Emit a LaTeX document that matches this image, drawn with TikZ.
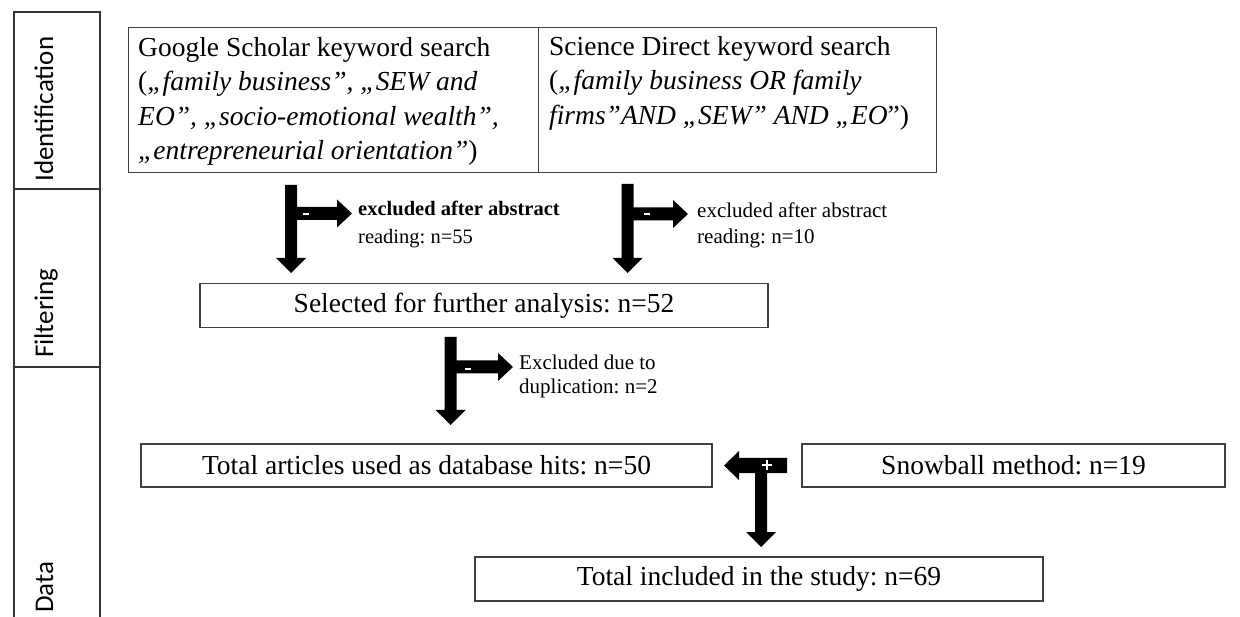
\documentclass[tikz,border=0pt]{standalone}
\usepackage{fontspec}
\setmainfont{Liberation Serif}
\newfontfamily\sidefont{Carlito}
\frenchspacing
\newcommand{\tblk}[5]{%
\fill[blk] ({#1-6},#2) -- ({#1+6},#2) -- ({#1+6},{#4-6.5}) -- ({#5-15},{#4-6.5}) -- ({#5-15},{#4-14}) -- (#5,#4) -- ({#5-15},{#4+14}) -- ({#5-15},{#4+6.5}) -- ({#1+6},{#4+6.5}) -- ({#1+6},{#3-15}) -- ({#1+15},{#3-15}) -- (#1,#3) -- ({#1-15},{#3-15}) -- ({#1-6},{#3-15}) -- cycle;}
\begin{document}
\begin{tikzpicture}[x=1pt,y=-1pt,
 box/.style={draw=black!75, line width=1.4pt, inner sep=0pt},
 boxtext/.style={font=\fontsize{27.5}{34.5}\selectfont, inner sep=0pt, align=left, anchor=north west},
 bigtext/.style={font=\fontsize{27.5}{34.5}\selectfont},
 side/.style={font=\sidefont\fontsize{27}{30}\selectfont, rotate=90, anchor=base west, inner sep=0pt},
 lbl/.style={inner sep=0pt, align=left, anchor=north west},
 col/.style={draw=black!80, line width=1.5pt},
 blk/.style={fill=black},
 signline/.style={white, line width=1.6pt}]
\useasboundingbox (0,0) rectangle (1240,617);
% side column
\draw[col] (14,625) -- (14,12) -- (100,12) -- (100,625);
\draw[col] (14,189) -- (100,189);
\draw[col] (14,367) -- (100,367);
\node[side] (sid) at (53,182) {Identification};
\node[side] (sfi) at (53,358) {Filtering};
\node[side] (sda) at (53,613) {Data};
% top boxes
\node[box, anchor=north west, minimum width=410pt, minimum height=145pt] (gs) at (128,27) {};
\node[box, anchor=north west, minimum width=398pt, minimum height=145pt] (sd) at (538,27) {};
\node[boxtext] (gst) at ([shift={(10pt,-10pt)}]gs.north west) {Google Scholar keyword search\\
(\textit{„family business”, „SEW and}\\
\textit{EO”, „socio-emotional wealth”,}\\
\textit{„entrepreneurial orientation”})};
\node[boxtext] (sdt) at ([shift={(11pt,-9pt)}]sd.north west) {Science Direct keyword search\\
(\textit{„family business OR family}\\
\textit{firms”AND „SEW” AND „EO}”)};
% other boxes
\node[box, bigtext, minimum width=568pt, minimum height=44pt] (sel) at (484,305.5) {Selected for further analysis: n=52};
\node[box, bigtext, minimum width=571pt, minimum height=43pt] (tot) at (426.5,465.5) {Total articles used as database hits: n=50};
\node[box, bigtext, minimum width=423pt, minimum height=43pt] (snow) at (1013.5,465.5) {Snowball method: n=19};
\node[box, bigtext, minimum width=568pt, minimum height=44pt] (inc) at (759,579) {Total included in the study: n=69};
% block arrows
\tblk{291}{185}{273}{213.5}{352}
\tblk{627.5}{184}{273}{214}{688}
\tblk{450.5}{337}{425}{367}{513}
\fill[blk] (787,458) -- (787,473) -- (767,473) -- (767,532) -- (776,532) -- (761,547) -- (746,532) -- (755,532) -- (755,473) -- (739,473) -- (739,480) -- (724,465.5) -- (739,451) -- (739,458) -- cycle;
\draw[signline] (303,214) -- (308.5,214);
\draw[signline] (644,214) -- (649.5,214);
\draw[signline] (465,369) -- (470.5,369);
\draw[white, line width=1.3pt] (762,465) -- (772,465) (767,460) -- (767,470);
% labels
\node[lbl, font=\fontsize{20.5}{28}\selectfont] (l1) at (358,201) {\textbf{excluded after abstract}\\reading: n=55};
\node[lbl, font=\fontsize{21}{26}\selectfont] (l2) at (697,202.5) {excluded after abstract\\reading: n=10};
\node[lbl, font=\fontsize{21}{24}\selectfont] (l3) at (519,354.5) {Excluded due to\\duplication: n=2};
\end{tikzpicture}
\end{document}
